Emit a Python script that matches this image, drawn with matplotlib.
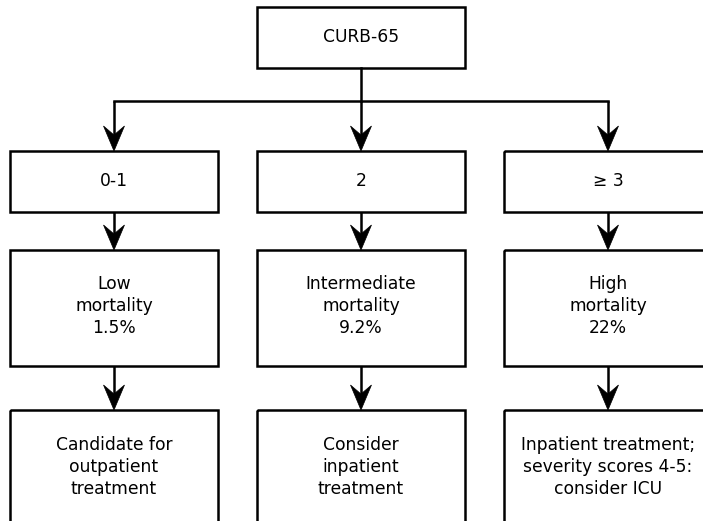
import matplotlib.pyplot as plt
from matplotlib.patches import Rectangle, Polygon

plt.rcParams['font.family'] = ['DejaVu Sans Condensed', 'DejaVu Sans']

top_label = "CURB-65"
score_labels = ["0-1", "2", "\u2265 3"]
mortality_labels = ["Low\nmortality\n1.5%", "Intermediate\nmortality\n9.2%", "High\nmortality\n22%"]
action_labels = ["Candidate for\noutpatient\ntreatment",
                 "Consider\ninpatient\ntreatment",
                 "Inpatient treatment;\nseverity scores 4-5:\nconsider ICU"]

# layout in pixel units
col_x = [114, 361, 608]
box_w = 208
top_box = (257, 7, 208, 61)
rows = [(151, 212), (250, 366), (410, 530)]
text_y = [181, 306, 467]
branch_y = 101
lw = 1.8
fs = 12.3

fig = plt.figure(figsize=(7.03, 5.21), dpi=100)
ax = fig.add_axes([0, 0, 1, 1])
ax.set_xlim(0, 703)
ax.set_ylim(521, 0)
ax.axis('off')


def box(x0, y0, w, h):
    ax.add_patch(Rectangle((x0, y0), w, h, fill=False, ec='black', lw=lw,
                           joinstyle='miter'))


def arrow(x, y0, y1):
    ax.plot([x, x], [y0, y1 - 15], color='black', lw=lw, solid_capstyle='butt')
    head = [(x, y1), (x - 10.5, y1 - 25), (x, y1 - 16), (x + 10.5, y1 - 25)]
    ax.add_patch(Polygon(head, closed=True, fc='black', ec='black', lw=0.5))


# top box
box(*top_box)
ax.text(top_box[0] + top_box[2] / 2, top_box[1] + top_box[3] / 2, top_label,
        ha='center', va='center', fontsize=fs)

# branching lines
ax.plot([col_x[1], col_x[1]], [top_box[1] + top_box[3], branch_y], color='black', lw=lw)
ax.plot([col_x[0], col_x[2]], [branch_y, branch_y], color='black', lw=lw,
        solid_capstyle='projecting')
for x in col_x:
    arrow(x, branch_y, rows[0][0])

for i, x in enumerate(col_x):
    labels = [score_labels[i], mortality_labels[i], action_labels[i]]
    for r, (y0, y1) in enumerate(rows):
        box(x - box_w / 2, y0, box_w, y1 - y0)
        ax.text(x, text_y[r], labels[r], ha='center', va='center',
                fontsize=fs, linespacing=1.3)
        if r < len(rows) - 1:
            arrow(x, y1, rows[r + 1][0])

fig.savefig('out.png', dpi=100)
